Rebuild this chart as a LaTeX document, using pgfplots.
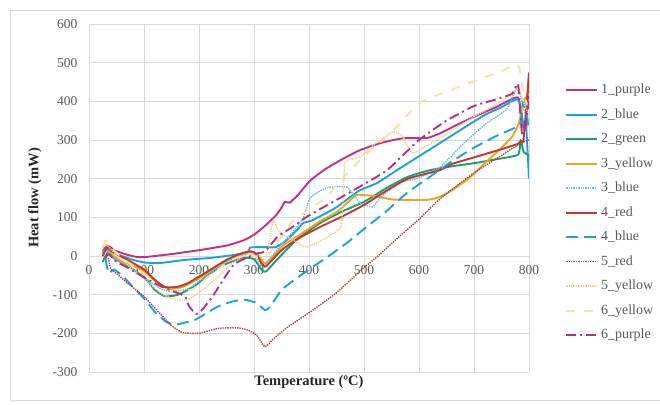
\documentclass[border=0pt]{standalone}
\usepackage{fontspec}
\setmainfont{Liberation Serif}
\usepackage{pgfplots}
\pgfplotsset{compat=1.18}

\definecolor{cpurple}{HTML}{C2307E}
\definecolor{cblue}{HTML}{1BA1E2}
\definecolor{cgreen}{HTML}{1E9E6E}
\definecolor{cyellow}{HTML}{F2A21E}
\definecolor{clblue}{HTML}{5BBFEA}
\definecolor{cred}{HTML}{C0392B}
\definecolor{cdred}{HTML}{B2423A}
\definecolor{clyellow}{HTML}{F8CB8C}
\definecolor{cpyellow}{HTML}{FBE0A4}
\definecolor{cdpurple}{HTML}{B3327C}
\definecolor{txtgray}{HTML}{595959}
\definecolor{gridgray}{HTML}{D9D9D9}

\begin{document}
\begin{tikzpicture}
\useasboundingbox (-89bp,-33bp) rectangle (571bp,372bp);
\draw[gridgray, line width=0.8bp] (-79bp,-28bp) rectangle (600bp,362bp);
\begin{axis}[
    at={(0,0)}, anchor=south west,
    scale only axis,
    width=440bp, height=348bp,
    xmin=0, xmax=800,
    ymin=-300, ymax=600,
    xtick={0,100,...,800},
    ytick={-300,-200,...,600},
    axis x line*=middle,
    axis y line*=left,
    hide obscured x ticks=false,
    hide obscured y ticks=false,
    axis line style={gridgray, line width=0.9bp},
    major tick length=0pt,
    grid=major,
    grid style={gridgray, line width=0.9bp},
    /pgf/number format/assume math mode=true,
    tick label style={font=\fontsize{13.5bp}{15bp}\selectfont, text=txtgray},
    xticklabel style={yshift=-6bp},
    yticklabel style={xshift=-8bp},
    xlabel={\textbf{Temperature (ºC)}},
    ylabel={\textbf{Heat flow (mW)}},
    label style={font=\fontsize{14.5bp}{16bp}\selectfont, text=black!85},
    xlabel style={at={(axis description cs:0.5,-0.029)}, anchor=center},
    ylabel style={at={(axis description cs:-0.123,0.5)}, anchor=center, rotate=0},
    legend cell align=left,
    legend style={at={(1.075,0.835)}, anchor=north west, draw=none, fill=none,
        font=\fontsize{14bp}{16bp}\selectfont, text=txtgray,
        row sep=11.5bp,
        nodes={inner sep=0pt, text height=10bp, text depth=3bp},
        /tikz/every odd column/.append style={column sep=3bp}},
    legend image code/.code={\draw[#1] (0bp,0bp) -- (31bp,0bp);},
    every axis plot/.append style={line width=1.9bp, line join=round, smooth, tension=0.3},
]

% 1_purple
\addplot[cpurple] coordinates {
(25,12) (30,22) (35,26) (40,22) (45,15) (55,10) (70,3) (85,-2) (100,-3)
(120,0) (150,5) (175,10) (200,15) (250,27) (280,40) (300,55) (320,78)
(340,105) (350,125) (356,140) (365,138) (380,158) (402,195) (430,225) (460,250)
(493,274) (530,292) (560,302) (578,305) (614,305) (638,317) (670,340)
(700,360) (740,385) (780,410) (788,340) (795,330) (800,475)
};
\addlegendentry{1\_purple}

% 2_blue
\addplot[cblue] coordinates {
(25,8) (30,18) (35,15) (45,8) (60,0) (80,-10) (102,-17) (130,-18) (175,-10)
(220,-5) (260,2) (289,10) (293,22) (320,23) (340,23) (360,42)
(380,70) (389,85) (405,92) (430,110) (451,127) (490,168) (524,189)
(560,222) (600,258) (638,292) (680,330) (720,365) (750,385) (780,405)
(790,340) (795,330) (800,200)
};
\addlegendentry{2\_blue}

% 2_green
\addplot[cgreen] coordinates {
(25,-15) (30,0) (35,10) (40,0) (50,-10) (70,-25) (100,-55) (120,-88)
(138,-104) (160,-101) (190,-80) (220,-45) (250,-20) (280,-5) (300,-8)
(315,-38) (322,-40) (335,-20) (355,10) (380,45) (420,85) (460,115)
(500,140) (540,175) (580,205) (620,222) (660,232) (700,240) (740,250)
(780,262) (785,300) (790,270) (800,260)
};
\addlegendentry{2\_green}

% 3_yellow
\addplot[cyellow] coordinates {
(25,5) (30,15) (35,12) (45,0) (60,-15) (80,-25) (100,-40) (125,-70)
(145,-85) (170,-80) (200,-58) (240,-20) (270,0) (290,10) (305,5) (320,-20)
(335,0) (355,30) (380,52) (420,90) (450,113) (470,138) (487,158) (520,155)
(553,146) (614,145) (638,153) (660,170) (690,200) (720,240)
(750,280) (770,310) (782,345) (790,400) (800,420)
};
\addlegendentry{3\_yellow}

% 3_blue
\addplot[clblue, line width=1.4bp, densely dotted] coordinates {
(25,10) (30,15) (35,10) (50,-10) (80,-35) (100,-55) (130,-85) (150,-92)
(180,-85) (210,-55) (250,-15) (285,5) (300,0) (315,-25) (330,-5) (350,30)
(375,70) (390,100) (402,150) (433,177) (469,178) (493,137) (516,127)
(529,150) (565,190) (600,202) (640,232) (680,290) (720,340) (760,380)
(780,440) (790,380) (800,350)
};
\addlegendentry{3\_blue}

% 4_red
\addplot[cred] coordinates {
(25,0) (30,15) (35,22) (40,15) (50,5) (70,-10) (100,-35) (120,-62)
(138,-80) (160,-80) (180,-70) (210,-45) (250,-10) (280,8) (295,12)
(305,5) (312,-15) (320,-28) (330,-15) (350,15) (380,45) (420,75)
(460,102) (500,132) (540,168) (580,200) (638,222) (660,238) (700,255)
(740,272) (780,290) (785,298) (790,300) (800,470)
};
\addlegendentry{4\_red}

% 4_blue
\addplot[cblue, dash pattern=on 12bp off 6bp] coordinates {
(30,-5) (33,-30) (36,-45) (45,-35) (60,-50) (80,-80) (100,-110) (120,-145)
(140,-170) (156,-178) (175,-172) (193,-165) (234,-131) (260,-118)
(284,-113) (305,-122) (320,-140) (330,-130) (350,-88) (380,-55)
(410,-25) (433,-3) (470,35) (500,70) (540,115) (578,163) (620,205)
(660,245) (700,280) (740,310) (775,332) (785,345) (790,400) (800,330)
};
\addlegendentry{4\_blue}

% 5_red
\addplot[cdred, line width=1.4bp, densely dotted] coordinates {
(35,-5) (40,-35) (50,-45) (70,-70) (100,-105) (130,-150) (150,-180)
(170,-198) (200,-200) (235,-187) (271,-186) (290,-192) (305,-205)
(320,-235) (335,-215) (360,-185) (407,-140) (450,-95) (500,-30)
(524,-2) (560,45) (600,95) (640,150) (700,215) (750,260) (785,292) (800,300)
};
\addlegendentry{5\_red}

% 5_yellow
\addplot[clyellow, line width=1.4bp, densely dotted] coordinates {
(25,20) (30,30) (35,25) (45,10) (60,-10) (80,-35) (100,-60) (130,-95)
(150,-110) (175,-115) (200,-95) (230,-60) (260,-20) (290,5) (310,0)
(320,-10) (328,40) (335,93) (347,60) (371,41) (396,23) (433,49) (458,75)
(462,150) (465,240) (475,250) (493,256) (520,290) (553,321) (570,310)
(578,287) (589,266) (620,290) (650,315) (700,360) (750,400) (780,430)
(800,360)
};
\addlegendentry{5\_yellow}

% 6_yellow
\addplot[cpyellow, dash pattern=on 9bp off 9bp] coordinates {
(25,25) (30,40) (35,35) (45,15) (60,-5) (80,-25) (100,-45) (130,-80)
(160,-95) (190,-85) (220,-50) (260,-10) (290,5) (310,-5) (330,10)
(350,50) (370,90) (400,120) (430,150) (460,200) (500,258) (550,320)
(600,395) (650,425) (700,452) (750,478) (780,495) (790,420) (800,380)
};
\addlegendentry{6\_yellow}

% 6_purple
\addplot[cdpurple, dash pattern=on 10bp off 4bp on 2bp off 4bp] coordinates {
(30,-5) (35,5) (40,0) (50,-15) (70,-30) (100,-55) (130,-78) (160,-95)
(175,-105) (182,-130) (195,-150) (205,-140) (224,-106) (247,-55)
(265,-20) (302,5) (320,12) (343,50) (370,75) (400,105) (450,145)
(493,180) (542,222) (600,300) (650,350) (700,388) (740,405)
(770,420) (780,445) (788,310) (800,400)
};
\addlegendentry{6\_purple}

\end{axis}
\end{tikzpicture}
\end{document}
